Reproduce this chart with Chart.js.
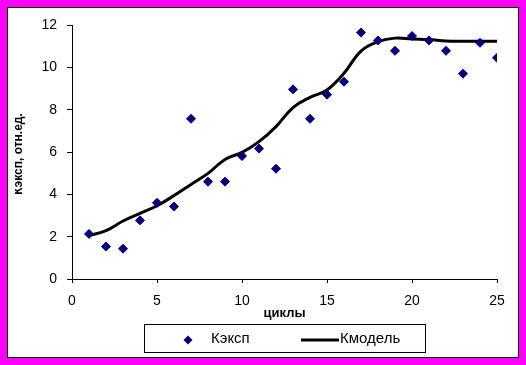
<!DOCTYPE html>
<html>
<head>
<meta charset="utf-8">
<script src="https://cdn.jsdelivr.net/npm/chart.js@4/dist/chart.umd.min.js"></script>
<style>
  html, body { margin: 0; padding: 0; background: #fff; }
  #wrap { width: 526px; height: 365px; }
</style>
</head>
<body>
<div id="wrap"><canvas id="chart" width="526" height="365"></canvas></div>
<script>
// cycles (x) and measured / model values
const cycles = [1, 2, 3, 4, 5, 6, 7, 8, 9, 10, 11, 12, 13, 14, 15, 16, 17, 18, 19, 20, 21, 22, 23, 24, 25];
const kExp = [2.13, 1.53, 1.43, 2.77, 3.6, 3.42, 7.57, 4.6, 4.6, 5.81, 6.16, 5.21, 8.96, 7.57, 8.71, 9.32, 11.65, 11.27, 10.78, 11.48, 11.27, 10.78, 9.7, 11.16, 10.45];
const kModel = [2.05, 2.28, 2.74, 3.1, 3.46, 3.94, 4.47, 4.99, 5.65, 5.98, 6.49, 7.2, 8.1, 8.58, 8.93, 9.72, 10.77, 11.21, 11.38, 11.34, 11.31, 11.24, 11.23, 11.23, 11.23];
const xTicks = [0, 5, 10, 15, 20, 25];
const yTicks = [0, 2, 4, 6, 8, 10, 12];

const legendLabels = ['Кэксп', 'Кмодель'];
const yTitle = 'Кэксп, отн.ед.';

const FONT = '"Liberation Sans", Arial, sans-serif';
const NAVY = '#000080';

// magenta frame with thin black inner line
const framePlugin = {
    id: 'frame',
    beforeDraw(chart) {
        const ctx = chart.ctx;
        ctx.save();
        ctx.fillStyle = '#ff00ff';
        ctx.fillRect(0, 0, chart.width, chart.height);
        ctx.fillStyle = '#fff';
        ctx.fillRect(8, 8, 510, 349);
        ctx.strokeStyle = '#000';
        ctx.lineWidth = 1;
        ctx.strokeRect(7.5, 7.5, 511, 350);
        ctx.restore();
    },
};

// legend box and the clipped y-axis title
const extrasPlugin = {
    id: 'extras',
    afterDraw(chart) {
        const ctx = chart.ctx;
        ctx.save();

        // y title, cut off on its left side like in the original
        ctx.beginPath();
        ctx.rect(15, 30, 10, 250);
        ctx.clip();
        ctx.translate(22, 154);
        ctx.rotate(-Math.PI / 2);
        ctx.fillStyle = '#000';
        ctx.font = 'bold 12px ' + FONT;
        ctx.textAlign = 'center';
        ctx.textBaseline = 'alphabetic';
        ctx.fillText(yTitle, 0, 0);
        ctx.restore();

        ctx.save();
        ctx.strokeStyle = '#000';
        ctx.lineWidth = 1;
        ctx.strokeRect(144.5, 324.5, 281, 28);

        // diamond marker
        ctx.fillStyle = NAVY;
        ctx.beginPath();
        ctx.moveTo(188, 335.5);
        ctx.lineTo(192.5, 340);
        ctx.lineTo(188, 344.5);
        ctx.lineTo(183.5, 340);
        ctx.closePath();
        ctx.fill();

        // line sample
        ctx.strokeStyle = '#000';
        ctx.lineWidth = 3;
        ctx.beginPath();
        ctx.moveTo(301, 340);
        ctx.lineTo(339, 340);
        ctx.stroke();

        ctx.fillStyle = '#000';
        ctx.font = '15px ' + FONT;
        ctx.textBaseline = 'middle';
        ctx.textAlign = 'left';
        ctx.fillText(legendLabels[0], 211, 339);
        ctx.fillText(legendLabels[1], 340, 339);
        ctx.restore();
    },
};

new Chart(document.getElementById('chart'), {
    type: 'scatter',
    data: {
        datasets: [
            {
                label: legendLabels[0],
                data: cycles.map((c, i) => ({ x: c, y: kExp[i] })),
                pointStyle: 'rectRot',
                pointRadius: 4.5,
                pointBorderWidth: 1,
                backgroundColor: NAVY,
                borderColor: NAVY,
                order: 0,
            },
            {
                label: legendLabels[1],
                data: cycles.map((c, i) => ({ x: c, y: kModel[i] })),
                showLine: true,
                borderColor: '#000',
                borderWidth: 3,
                tension: 0.4,
                pointRadius: 0,
                order: 1,
            },
        ],
    },
    options: {
        responsive: false,
        animation: false,
        layout: { padding: { left: 8, top: 25, right: 29, bottom: 44 } },
        plugins: {
            legend: { display: false },
            tooltip: { enabled: false },
        },
        scales: {
            x: {
                type: 'linear',
                min: 0,
                max: 25,
                afterFit: s => { s.height = 42; },
                afterBuildTicks: s => { s.ticks = xTicks.map(v => ({ value: v })); },
                border: { display: true, color: '#000', width: 1 },
                grid: { drawOnChartArea: false, drawTicks: true, tickLength: 4, color: '#000' },
                ticks: { color: '#000', padding: 10, maxRotation: 0, font: { family: FONT, size: 14 } },
                title: {
                    display: true,
                    text: 'циклы',
                    color: '#000',
                    padding: { top: 0, bottom: 0 },
                    font: { family: FONT, size: 13, weight: 'bold' },
                },
            },
            y: {
                type: 'linear',
                min: 0,
                max: 12,
                afterFit: s => { s.width = 64; },
                afterBuildTicks: s => { s.ticks = yTicks.map(v => ({ value: v })); },
                border: { display: true, color: '#000', width: 1 },
                grid: { drawOnChartArea: false, drawTicks: true, tickLength: 5, color: '#000' },
                ticks: { color: '#000', padding: 10, font: { family: FONT, size: 14 } },
            },
        },
    },
    plugins: [framePlugin, extrasPlugin],
});
</script>
</body>
</html>
